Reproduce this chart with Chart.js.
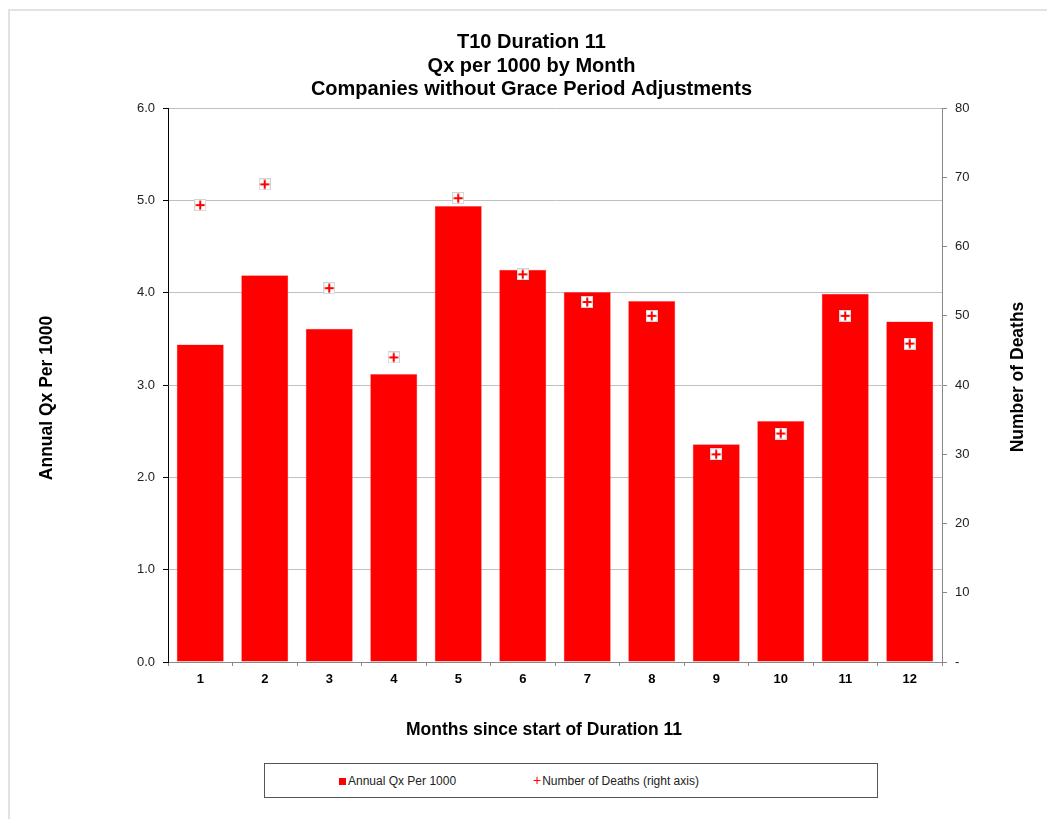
<!DOCTYPE html>
<html>
<head>
<meta charset="utf-8">
<script src="https://cdn.jsdelivr.net/npm/chart.js@4.4.1/dist/chart.umd.min.js"></script>
<style>
  body { margin: 0; background: #fff; font-family: "Liberation Sans", Arial, sans-serif; }
  #frame { position: absolute; left: 8px; top: 9px; width: 1060px; height: 830px; border: 2px solid #e2e2e2; }
  #wrap { position: absolute; left: 0; top: 0; width: 1047px; height: 819px; }
  #legend { position: absolute; left: 264px; top: 763px; width: 612px; height: 33px; border: 1px solid #555; background: #fff;
            font-size: 12px; color: #222; }
  #legend span { position: absolute; top: 10px; white-space: nowrap; }
  .sq { display: inline-block; width: 7px; height: 7px; background: #ff0000; margin-right: 2px; }
  .pl { color: #ff0000; font-size: 14px; line-height: 12px; margin-right: 1px; font-weight: normal; }
</style>
</head>
<body>
<div id="frame"></div>
<div id="wrap"><canvas id="qxChart" width="1047" height="819"></canvas></div>
<div id="legend">
  <span style="left:74px"><i class="sq"></i>Annual Qx Per 1000</span>
  <span style="left:268px"><b class="pl">+</b>Number of Deaths (right axis)</span>
</div>
<script>
var months = ['1', '2', '3', '4', '5', '6', '7', '8', '9', '10', '11', '12'];
var qxPer1000 = [3.44, 4.19, 3.61, 3.12, 4.94, 4.25, 4.01, 3.91, 2.36, 2.61, 3.99, 3.69];
var deaths = [66, 69, 54, 44, 67, 56, 52, 50, 30, 33, 50, 46];
var titleLines = ['T10 Duration 11', 'Qx per 1000 by Month', 'Companies without Grace Period Adjustments'];
var xTitle = 'Months since start of Duration 11';
var leftTitle = 'Annual Qx Per 1000';
var rightTitle = 'Number of Deaths';

// white box with red cross, like the excel marker
function makeMarker() {
    const c = document.createElement('canvas');
    c.width = 12; c.height = 12;
    const g = c.getContext('2d');
    g.fillStyle = '#ffffff';
    g.fillRect(0, 0, 12, 12);
    g.strokeStyle = 'rgba(200,200,200,0.8)';
    g.lineWidth = 1;
    g.strokeRect(0.5, 0.5, 11, 11);
    g.strokeStyle = '#ff0000';
    g.lineWidth = 2;
    g.beginPath();
    g.moveTo(6, 1.5); g.lineTo(6, 10.5);
    g.moveTo(1.5, 6); g.lineTo(10.5, 6);
    g.stroke();
    return c;
}

function drawText(c, text, x, y, rot) {
    c.save();
    c.font = 'bold 17.5px "Liberation Sans"';
    c.fillStyle = '#000';
    c.textAlign = 'center';
    c.textBaseline = 'middle';
    c.translate(x, y);
    c.rotate(rot);
    c.fillText(text, 0, 0);
    c.restore();
}

// axis titles placed like excel did (both y titles read bottom-to-top)
const axisTitles = {
    id: 'axisTitles',
    afterDraw(chart) {
        const c = chart.ctx;
        drawText(c, xTitle, 544, 730, 0);
        drawText(c, leftTitle, 47, 398, -Math.PI / 2);
        drawText(c, rightTitle, 1018, 377, -Math.PI / 2);
    }
};

const ctx = document.getElementById('qxChart').getContext('2d');
const qxChart = new Chart(ctx, {
    data: {
        labels: months,
        datasets: [
            {
                type: 'line',
                label: 'Number of Deaths (right axis)',
                data: deaths,
                showLine: false,
                pointStyle: makeMarker(),
                yAxisID: 'y1',
                order: 0
            },
            {
                type: 'bar',
                label: 'Annual Qx Per 1000',
                data: qxPer1000,
                backgroundColor: '#ff0000',
                borderColor: '#ff6666',
                borderWidth: 0.5,
                barPercentage: 0.73,
                categoryPercentage: 1.0,
                yAxisID: 'y',
                order: 1
            }
        ]
    },
    plugins: [axisTitles],
    options: {
        responsive: false,
        animation: false,
        layout: { padding: { left: 36, right: 20, top: 0, bottom: 74 } },
        plugins: {
            legend: { display: false },
            tooltip: { enabled: false },
            title: {
                display: true,
                text: titleLines,
                color: '#000',
                font: { family: 'Liberation Sans', size: 20, weight: 'bold', lineHeight: 1.17 },
                padding: { top: 31, bottom: 7 }
            }
        },
        scales: {
            x: {
                grid: { drawOnChartArea: false, offset: true, tickLength: 4, tickColor: '#888' },
                border: { color: '#888' },
                ticks: { color: '#000', font: { family: 'Liberation Sans', size: 13, weight: 'bold' }, padding: 6 },
                afterFit: function (s) { s.height = 83; }
            },
            y: {
                position: 'left',
                min: 0,
                max: 6,
                ticks: {
                    stepSize: 1,
                    color: '#222',
                    font: { family: 'Liberation Sans', size: 13 },
                    padding: 8,
                    callback: function (v) { return v.toFixed(1); }
                },
                grid: { color: '#c0c0c0', tickColor: '#000', tickLength: 5 },
                border: { color: '#000' },
                afterFit: function (s) { s.width = 132; }
            },
            y1: {
                position: 'right',
                min: 0,
                max: 80,
                ticks: {
                    stepSize: 10,
                    color: '#222',
                    font: { family: 'Liberation Sans', size: 13 },
                    padding: 8,
                    callback: function (v) { return v === 0 ? '-' : v; }
                },
                grid: { drawOnChartArea: false, tickColor: '#888', tickLength: 5 },
                border: { color: '#888' },
                afterFit: function (s) { s.width = 85; }
            }
        }
    }
});
</script>
</body>
</html>
